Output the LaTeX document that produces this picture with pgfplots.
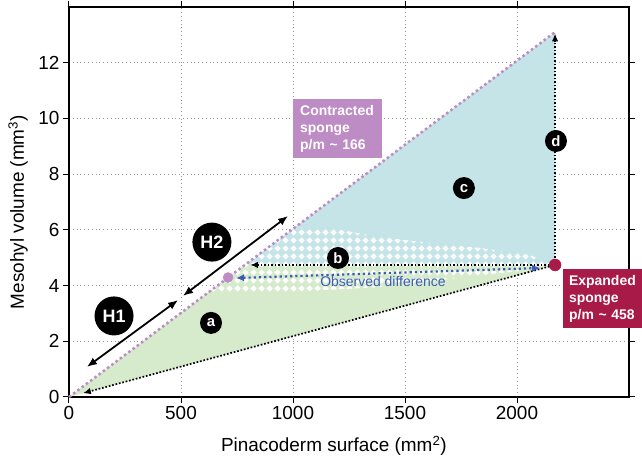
\documentclass[border=0pt]{standalone}
\usepackage{fontspec}
\setmainfont{Liberation Sans}
\usepackage{pgfplots}
\pgfplotsset{compat=1.18}
\usetikzlibrary{arrows.meta,patterns}

\definecolor{cpurple}{RGB}{190,140,196}
\definecolor{ccrimson}{RGB}{168,26,72}
\definecolor{cgreen}{RGB}{214,234,204}
\definecolor{cblue}{RGB}{196,228,232}
\definecolor{carrowblue}{RGB}{60,92,182}
\definecolor{cgrid}{RGB}{150,150,150}

\pgfdeclarepatternformonly{wdiamonds}{\pgfqpoint{0bp}{0bp}}{\pgfqpoint{7.5bp}{7.5bp}}{\pgfqpoint{7.5bp}{7.5bp}}{%
  \pgfpathmoveto{\pgfqpoint{3.75bp}{0.5bp}}%
  \pgfpathlineto{\pgfqpoint{7bp}{3.75bp}}%
  \pgfpathlineto{\pgfqpoint{3.75bp}{7bp}}%
  \pgfpathlineto{\pgfqpoint{0.5bp}{3.75bp}}%
  \pgfpathclose
  \pgfusepath{fill}}

\begin{document}
\begin{tikzpicture}
\begin{axis}[
  width=560bp, height=390bp, scale only axis,
  xmin=0, xmax=2500, ymin=0, ymax=14,
  xtick={0,500,1000,1500,2000}, ytick={0,2,4,6,8,10,12},
  grid=major,
  grid style={cgrid, line width=1bp, dash pattern=on 1bp off 2.8bp},
  tick align=outside, major tick length=6bp,
  tick style={black, line width=1bp},
  axis line style={black, line width=1.3bp},
  /pgf/number format/assume math mode=true,
  ticklabel style={font=\fontsize{19}{20}\selectfont},
  scaled x ticks=false,
  xticklabel style={/pgf/number format/1000 sep={}},
  xlabel={Pinacoderm surface (mm\textsuperscript{2})},
  ylabel={Mesohyl volume (mm\textsuperscript{3})},
  label style={font=\fontsize{19}{20}\selectfont},
  xlabel style={at={(axis description cs:0.473,-0.1256)}, anchor=center},
  ylabel style={at={(axis description cs:-0.091,0.474)}, anchor=center, rotate=0},
  clip=false,
]
% regions
\addplot[fill=cgreen, draw=none] coordinates {(0,0) (2170,4.74) (785,4.74)} -- cycle;
\addplot[fill=cblue, draw=none] coordinates {(785,4.74) (2170,13.1) (2170,4.74)} -- cycle;
\addplot[draw=none, pattern=wdiamonds, pattern color=white] coordinates {
 (613,3.70) (1009,6.09) (1165,6.07) (1388,5.74) (1612,5.53) (1835,5.35)
 (2058,5.10) (2138,4.81) (2150,4.72) (2138,4.63) (1924,4.45) (1701,4.24)
 (1388,3.95) (1000,3.77)} -- cycle;
% contracted line
\addplot[cpurple, line width=2.5bp, dash pattern=on 2.5bp off 2.8bp] coordinates {(0,0) (2170,13.1)};
% expanded line arrow
\addplot[black, line width=1.7bp, dash pattern=on 1.7bp off 1.8bp, -{Latex[length=8bp,width=6.5bp]}] coordinates {(2160,4.72) (62,0.135)};
% vertical arrow
\addplot[black, line width=1.7bp, dash pattern=on 1.7bp off 1.8bp, -{Latex[length=8bp,width=6.5bp]}] coordinates {(2170,4.74) (2170,13.05)};
% horizontal arrow
\addplot[black, line width=1.7bp, dash pattern=on 1.7bp off 1.8bp, -{Latex[length=8bp,width=6.5bp]}] coordinates {(2160,4.74) (808,4.74)};
% observed difference
\addplot[carrowblue, line width=2.2bp, dash pattern=on 2.2bp off 3bp, {Latex[length=8bp,width=7.5bp]}-{Latex[length=8bp,width=7.5bp]}] coordinates {(746,4.27) (2103,4.63)};
% H arrows
\addplot[black, line width=1.8bp, {Latex[length=10bp,width=8bp]}-{Latex[length=10bp,width=8bp]}] coordinates {(80,1.08) (487,3.48)};
\addplot[black, line width=1.8bp, {Latex[length=10bp,width=8bp]}-{Latex[length=10bp,width=8bp]}] coordinates {(509,3.63) (978,6.50)};
% points
\addplot[only marks, mark=*, mark size=5bp, cpurple] coordinates {(710,4.29)};
\addplot[only marks, mark=*, mark size=6bp, ccrimson] coordinates {(2170,4.74)};
% texts
\node[text=carrowblue, font=\fontsize{14}{16}\selectfont] at (axis cs:1402,4.13) {Observed difference};
\node[circle, fill=black, text=white, inner sep=0pt, minimum size=22bp, font=\bfseries\fontsize{15}{16}\selectfont] at (axis cs:634,2.66) {a};
\node[circle, fill=black, text=white, inner sep=0pt, minimum size=22bp, font=\bfseries\fontsize{15}{16}\selectfont] at (axis cs:1201,4.99) {b};
\node[circle, fill=black, text=white, inner sep=0pt, minimum size=22bp, font=\bfseries\fontsize{15}{16}\selectfont] at (axis cs:1763,7.50) {c};
\node[circle, fill=black, text=white, inner sep=0pt, minimum size=22bp, font=\bfseries\fontsize{15}{16}\selectfont] at (axis cs:2174,9.19) {d};
\node[circle, fill=black, text=white, inner sep=0pt, minimum size=39bp, font=\bfseries\fontsize{18}{20}\selectfont] at (axis cs:201,2.91) {H1};
\node[circle, fill=black, text=white, inner sep=0pt, minimum size=39bp, font=\bfseries\fontsize{18}{20}\selectfont] at (axis cs:638,5.56) {H2};
\node[anchor=north west, fill=cpurple, text=white, align=left, inner xsep=7bp, inner ysep=4bp,
  minimum width=89bp, minimum height=59bp, text width=75bp,
  font=\bfseries\fontsize{14}{17}\selectfont] at (axis cs:1000,10.70) {Contracted\\sponge\\p/m \textasciitilde{} 166};
\node[anchor=north west, fill=ccrimson, text=white, align=left, inner xsep=6bp, inner ysep=4bp,
  minimum width=82bp, minimum height=59bp, text width=70bp,
  font=\bfseries\fontsize{14}{17}\selectfont] at (axis cs:2205,4.59) {Expanded\\sponge\\p/m \textasciitilde{} 458};
\coordinate (SW) at (rel axis cs:0,0);
\coordinate (NE) at (rel axis cs:1,1);
\end{axis}
\pgfresetboundingbox
\path[use as bounding box] ([shift={(-69bp,-68bp)}]SW) rectangle ([shift={(13bp,7bp)}]NE);
\end{tikzpicture}
\end{document}
